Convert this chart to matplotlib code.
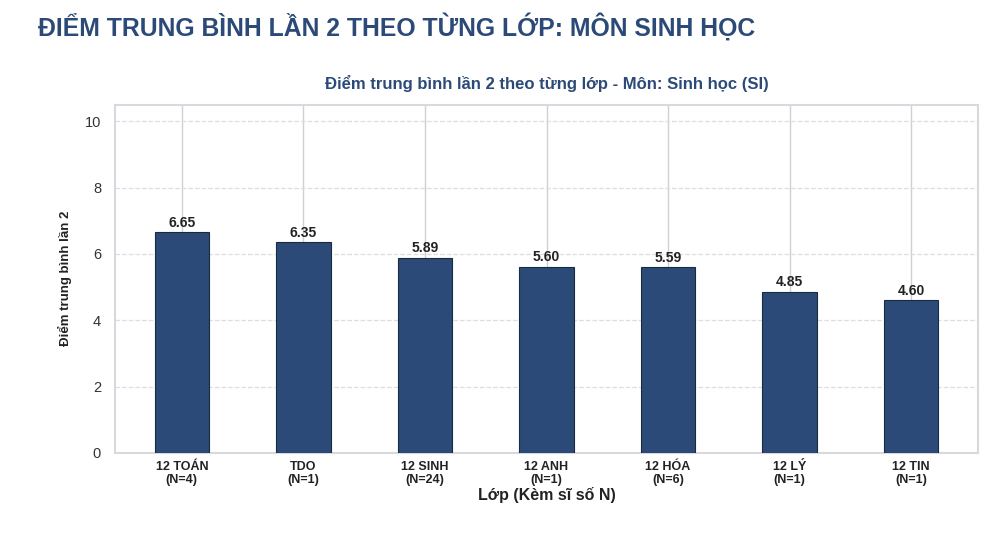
import numpy as np
import matplotlib
matplotlib.use("Agg")
import matplotlib.pyplot as plt

# data
lop = ["12 TOÁN", "TDO", "12 SINH", "12 ANH", "12 HÓA", "12 LÝ", "12 TIN"]
si_so = [4, 1, 24, 1, 6, 1, 1]
diem_tb = [6.65, 6.35, 5.89, 5.60, 5.59, 4.85, 4.60]

plt.rcParams['font.family'] = ['Liberation Sans', 'DejaVu Sans']

fig = plt.figure(figsize=(10, 5.34), dpi=100)
fig.text(0.038, 0.95, "ĐIỂM TRUNG BÌNH LẦN 2 THEO TỪNG LỚP: MÔN SINH HỌC",
         fontsize=17.8, fontweight='bold', color='#2b4a78', va='center', ha='left')

ax = fig.add_axes([0.115, 0.152, 0.863, 0.652])
x = np.arange(len(lop))
bars = ax.bar(x, diem_tb, width=0.45, color='#2b4a78', edgecolor='#1a2a40',
              linewidth=0.8, zorder=3)
for b, v in zip(bars, diem_tb):
    ax.text(b.get_x() + b.get_width() / 2, v + 0.08, f"{v:.2f}", ha='center',
            va='bottom', fontsize=10, fontweight='bold', color='#222222', zorder=4)

ax.set_xlim(-0.55, 6.55)
ax.set_ylim(0, 10.5)
ax.set_yticks([0, 2, 4, 6, 8, 10])
ax.set_xticks(x)
ax.set_xticklabels([f"{l}\n(N={n})" for l, n in zip(lop, si_so)],
                   fontsize=9, fontweight='bold', color='#222222',
                   linespacing=1.1)
ax.tick_params(axis='y', labelsize=10.5, colors='#333333', length=0, pad=10)
ax.tick_params(axis='x', length=0, pad=6)

ax.grid(axis='y', linestyle='--', color='#dddde3', linewidth=0.9, zorder=0)
ax.grid(axis='x', linestyle='-', color='#cfcfd6', linewidth=1.0, zorder=0)
ax.set_axisbelow(True)
for s in ax.spines.values():
    s.set_color('#d8d8de')
    s.set_linewidth(1.5)

ax.set_title("Điểm trung bình lần 2 theo từng lớp - Môn: Sinh học (SI)",
             fontsize=12, fontweight='bold', color='#2b4a78', pad=11)
ax.set_xlabel("Lớp (Kèm sĩ số N)", fontsize=11.5, fontweight='bold',
              color='#222222', labelpad=1)
ax.set_ylabel("Điểm trung bình lần 2", fontsize=9.5, fontweight='bold',
              color='#222222', labelpad=9)

fig.savefig("out.png", dpi=100)
